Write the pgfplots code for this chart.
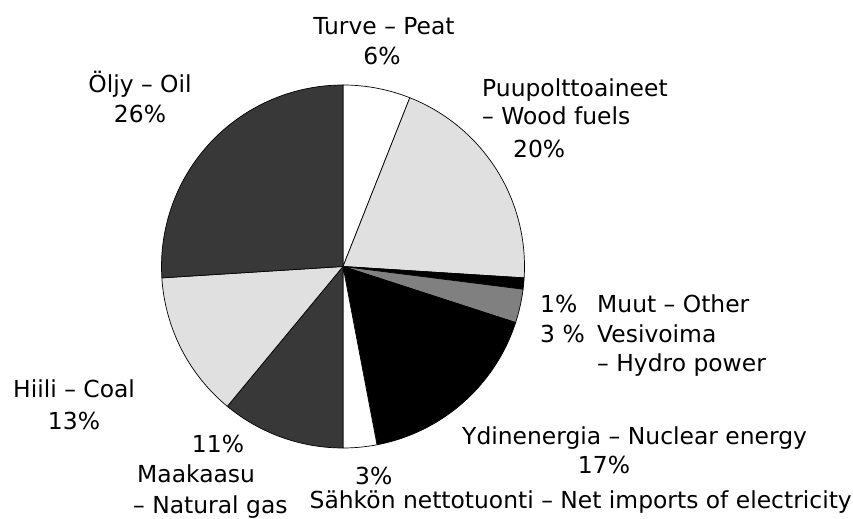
\documentclass[border=0pt]{standalone}
\usepackage{pgfplots}
\pgfplotsset{compat=1.18}
\usepackage{fontspec}
\setmainfont{DejaVu Sans}
\tikzset{lbl/.style={inner sep=0pt,font=\fontsize{23.5}{28}\selectfont}}
\begin{document}
\fontsize{23.5}{28}\selectfont
\begin{tikzpicture}
\useasboundingbox (0,0) rectangle (853bp,519bp);
\begin{axis}[at={(0,0)},anchor=south west,width=853bp,height=519bp,scale only axis,
  xmin=0,xmax=853,ymin=0,ymax=519,hide axis,clip=false]
\def\cx{343}\def\cy{252.5}\def\rr{181.5}
% shares in percent, clockwise from the top
\gdef\angA{90}
\foreach \v/\col in {6/white,20/black!12,1/black,3/black!50,17/black,3/white,11/black!78,13/black!12,26/black!78}{
  \pgfmathsetmacro{\angB}{\angA-3.6*\v}
  \edef\temp{\noexpand\addplot[draw=black,line width=0.7pt,fill=\col,domain=\angB:\angA,samples=80]
    ({\cx+\rr*cos(x)},{\cy+\rr*sin(x)}) -- (\cx,\cy) -- cycle;}
  \temp
  \global\let\angA\angB
}
\node[lbl,anchor=base] at (384,484) {Turve – Peat};
\node[lbl,anchor=base] at (382,454) {6\%};
\node[lbl,anchor=base] at (140,426) {Öljy – Oil};
\node[lbl,anchor=base] at (140,396) {26\%};
\node[lbl,anchor=base west] at (482,422) {Puupolttoaineet};
\node[lbl,anchor=base west] at (482,394) {– Wood fuels};
\node[lbl,anchor=base west] at (513,361) {20\%};
\node[lbl,anchor=base west] at (540,206) {1\%};
\node[lbl,anchor=base west] at (597,206) {Muut – Other};
\node[lbl,anchor=base west] at (540,176) {3 \%};
\node[lbl,anchor=base west] at (597,176) {Vesivoima};
\node[lbl,anchor=base west] at (597,147) {– Hydro power};
\node[lbl,anchor=base west] at (13,121) {Hiili – Coal};
\node[lbl,anchor=base] at (74,89) {13\%};
\node[lbl,anchor=base] at (218,66) {11\%};
\node[lbl,anchor=base west] at (137,36) {Maakaasu};
\node[lbl,anchor=base west] at (133,6) {– Natural gas};
\node[lbl,anchor=base west] at (355,34) {3\%};
\node[lbl,anchor=base east] at (852,11) {Sähkön nettotuonti – Net imports of electricity};
\node[lbl,anchor=base west] at (462,74) {Ydinenergia – Nuclear energy};
\node[lbl,anchor=base] at (604,45) {17\%};
\end{axis}
\end{tikzpicture}
\end{document}
